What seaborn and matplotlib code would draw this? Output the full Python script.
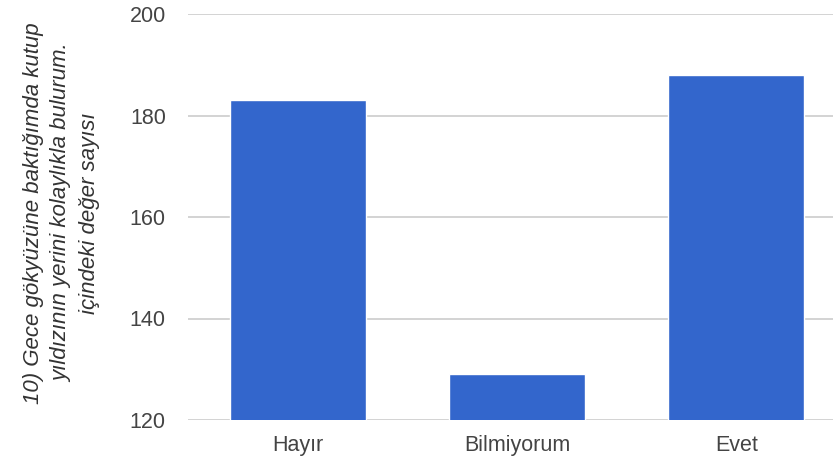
import matplotlib
matplotlib.use("Agg")
import matplotlib.pyplot as plt
import seaborn as sns
import pandas as pd

categories = ["Hayır", "Bilmiyorum", "Evet"]
counts = [183, 129, 188]
y_ticks = [120, 140, 160, 180, 200]
y_label = "10) Gece gökyüzüne baktığımda kutup\nyıldızının yerini kolaylıkla bulurum.\niçindeki değer sayısı"

sns.set_style("white")
plt.rcParams["font.family"] = ["Liberation Sans", "DejaVu Sans"]

df = pd.DataFrame({"cevap": categories, "sayi": counts})

fig = plt.figure(figsize=(8.33, 4.62), dpi=100)
ax = fig.add_axes([188 / 833, 1 - 420 / 462, 1 - 188 / 833, (420 - 14) / 462])

sns.barplot(data=df, x="cevap", y="sayi", color="#3366cc", saturation=1,
            width=0.62, ax=ax, zorder=3)

ax.set_ylim(120, 200)
ax.set_xlim(-0.5, 2.44)
ax.set_yticks(y_ticks)
ax.yaxis.grid(True, color="#cccccc", linewidth=1.2, zorder=0)
ax.set_axisbelow(True)
for s in ax.spines.values():
    s.set_visible(False)
ax.tick_params(axis="both", length=0, labelsize=15.5, labelcolor="#444444")
ax.tick_params(axis="y", pad=16)
ax.tick_params(axis="x", pad=11)
ax.set_xlabel("")
ax.set_ylabel(y_label, fontsize=16, style="italic", color="#333333",
              linespacing=1.45)
ax.yaxis.set_label_coords((100 - 188) / 645, 0.51)

fig.savefig("out.png", dpi=100)
